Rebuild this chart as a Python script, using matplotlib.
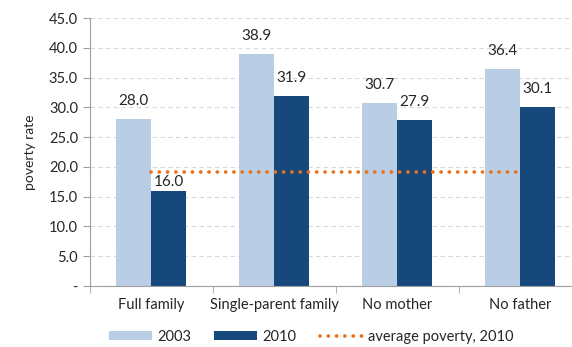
import matplotlib.pyplot as plt
import numpy as np
from matplotlib.ticker import FuncFormatter

categories = ["Full family", "Single-parent family", "No mother", "No father"]
rate_2003 = [28.0, 38.9, 30.7, 36.4]
rate_2010 = [16.0, 31.9, 27.9, 30.1]
avg_2010 = 19.2

plt.rcParams['font.family'] = ['Lato', 'DejaVu Sans']

fig = plt.figure(figsize=(5.72, 3.47), dpi=100)
ax = fig.add_axes([0.157, 0.176, 0.86, 0.772])

x = np.arange(len(categories))
w = 0.285
b1 = ax.bar(x - w / 2, rate_2003, w, color='#B9CDE5', label='2003', zorder=2)
b2 = ax.bar(x + w / 2, rate_2010, w, color='#17487B', label='2010', zorder=2)
avg, = ax.plot([x[0], x[-1]], [avg_2010, avg_2010], color='#E8731F',
               linestyle=(0, (0.01, 2.2)), linewidth=2.7,
               dash_capstyle='round', label='average poverty, 2010', zorder=3)

for bars in (b1, b2):
    for rect in bars:
        h = rect.get_height()
        # the short bar's label sits just under the average line
        off = 1 if abs(h - avg_2010) < 5 else 8
        ax.annotate(f'{h:.1f}', (rect.get_x() + rect.get_width() / 2, h),
                    xytext=(0, off), textcoords='offset points',
                    ha='center', va='bottom', fontsize=11, color='#262626')

ax.set_xlim(-0.5, 3.5)
ax.set_ylim(0, 45)
ax.set_yticks(np.arange(0, 46, 5))


def fmt(v, pos):
    return '-' if v == 0 else f'{v:.1f}'


ax.yaxis.set_major_formatter(FuncFormatter(fmt))
ax.set_xticks(x)
ax.set_xticklabels(categories)
ax.set_xticks(np.arange(-0.5, 4, 1), minor=True)
ax.tick_params(axis='x', which='major', length=0, pad=9, labelsize=10.5,
               labelcolor='#262626')
ax.tick_params(axis='x', which='minor', length=5, color='#A0A0A0')
ax.tick_params(axis='y', length=5, color='#A0A0A0', labelsize=10.5,
               labelcolor='#262626')
ax.set_ylabel('poverty rate', fontsize=10, labelpad=9, color='#262626')
ax.yaxis.grid(True, linestyle=(0, (4, 3)), color='#D9D9D9', linewidth=0.8,
              zorder=0)

for s in ('top', 'right'):
    ax.spines[s].set_visible(False)
ax.spines['left'].set_color('#A0A0A0')
ax.spines['bottom'].set_color('#A0A0A0')

ax.legend(handles=[b1, b2, avg], loc='center left',
          bbox_to_anchor=(0.039, -0.19), ncol=3, frameon=False,
          fontsize=10.5, handlelength=2.95, handleheight=0.55,
          columnspacing=1.6, handletextpad=0.35, borderpad=0,
          borderaxespad=0, labelcolor='#262626')

fig.savefig('out.png')
